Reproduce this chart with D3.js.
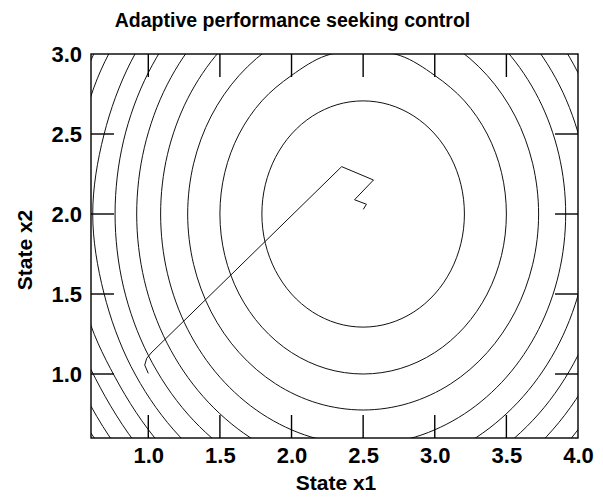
<!DOCTYPE html>
<html>
<head>
<meta charset="utf-8">
<script src="https://cdn.jsdelivr.net/npm/d3@7"></script>
<style>
  html, body { margin: 0; padding: 0; background: #fff; }
  svg { display: block; }
  text { font-family: "Liberation Sans", Arial, Helvetica, sans-serif; font-weight: bold; fill: #000; }
</style>
</head>
<body>
<div id="chart"></div>
<script>
// ---------------- data ----------------
const titleText = "Adaptive performance seeking control";
const xLabelText = "State x1";
const yLabelText = "State x2";
const xDomain = [0.6, 4.0];
const yDomain = [0.6, 3.0];
const xTicks = [1.0, 1.5, 2.0, 2.5, 3.0, 3.5, 4.0];
const yTicks = [1.0, 1.5, 2.0, 2.5, 3.0];

// contour lines of the cost surface, level by level (x1, x2)
const contour05 = [[3.207,2.0],[3.183,2.183],[3.112,2.354],[3.0,2.5],[2.854,2.612],[2.683,2.683],[2.5,2.707],[2.317,2.683],[2.146,2.612],[2.0,2.5],[1.888,2.354],[1.817,2.183],[1.793,2.0],[1.817,1.817],[1.888,1.646],[2.0,1.5],[2.146,1.388],[2.317,1.317],[2.5,1.293],[2.683,1.317],[2.854,1.388],[3.0,1.5],[3.112,1.646],[3.183,1.817]];
const contour10 = [[3.5,2.0],[3.466,2.259],[3.366,2.5],[3.207,2.707],[3.0,2.866],[2.759,2.99],[2.5,3.02],[2.241,2.99],[2.0,2.866],[1.793,2.707],[1.634,2.5],[1.534,2.259],[1.5,2.0],[1.534,1.741],[1.634,1.5],[1.793,1.293],[2.0,1.134],[2.241,1.034],[2.5,1.0],[2.759,1.034],[3.0,1.134],[3.207,1.293],[3.366,1.5],[3.466,1.741]];
const contour15 = [[3.725,2.0],[3.683,2.317],[3.561,2.612],[3.366,2.866],[3.112,3.061],[2.817,3.183],[2.5,3.225],[2.183,3.183],[1.888,3.061],[1.634,2.866],[1.439,2.612],[1.317,2.317],[1.275,2.0],[1.317,1.683],[1.439,1.388],[1.634,1.134],[1.888,0.939],[2.183,0.817],[2.5,0.775],[2.817,0.817],[3.112,0.939],[3.366,1.134],[3.561,1.388],[3.683,1.683]];
const contour20 = [[3.914,2.0],[3.866,2.373],[3.725,2.721],[3.5,3.02],[3.207,3.249],[2.866,3.393],[2.5,3.442],[2.134,3.393],[1.793,3.249],[1.5,3.02],[1.275,2.721],[1.134,2.373],[1.086,2.0],[1.134,1.627],[1.275,1.279],[1.5,0.98],[1.793,0.751],[2.134,0.607],[2.5,0.558],[2.866,0.607],[3.207,0.751],[3.5,0.98],[3.725,1.279],[3.866,1.627]];
const contour25 = [[4.081,2.0],[4.027,2.417],[3.869,2.807],[3.618,3.14],[3.291,3.396],[2.909,3.558],[2.5,3.613],[2.091,3.558],[1.709,3.396],[1.382,3.14],[1.131,2.807],[0.973,2.417],[0.919,2.0],[0.973,1.583],[1.131,1.193],[1.382,0.86],[1.709,0.604],[2.091,0.442],[2.5,0.387],[2.909,0.442],[3.291,0.604],[3.618,0.86],[3.869,1.193],[4.027,1.583]];
const contour30 = [[4.232,2.0],[4.173,2.457],[4.0,2.883],[3.725,3.25],[3.366,3.53],[2.948,3.706],[2.5,3.767],[2.052,3.706],[1.634,3.53],[1.275,3.25],[1.0,2.883],[0.827,2.457],[0.768,2.0],[0.827,1.543],[1.0,1.117],[1.275,0.75],[1.634,0.47],[2.052,0.293],[2.5,0.233],[2.948,0.293],[3.366,0.47],[3.725,0.75],[4.0,1.117],[4.173,1.543]];
const contour35 = [[4.371,2.0],[4.307,2.494],[4.12,2.954],[3.823,3.349],[3.435,3.652],[2.984,3.843],[2.5,3.908],[2.016,3.843],[1.565,3.652],[1.177,3.349],[0.88,2.954],[0.69,2.494],[0.612,2.0],[0.69,1.506],[0.88,1.046],[1.177,0.651],[1.565,0.346],[2.016,0.157],[2.5,0.092],[2.984,0.157],[3.435,0.346],[3.823,0.651],[4.12,1.046],[4.307,1.506]];
const contour40 = [[4.5,2.0],[4.432,2.528],[4.232,3.02],[3.914,3.442],[3.5,3.767],[3.018,3.971],[2.5,4.04],[1.982,3.971],[1.5,3.767],[1.086,3.442],[0.76,3.06],[0.56,2.61],[0.5,2.0],[0.56,1.42],[0.768,0.98],[1.086,0.558],[1.5,0.233],[1.982,0.029],[2.5,-0.04],[3.018,0.029],[3.5,0.233],[3.914,0.558],[4.232,0.98],[4.432,1.472]];
const contour45 = [[1.0,3.53],[0.663,3.082],[0.451,2.56],[0.379,2.0],[0.45,1.38],[0.663,0.918],[1.0,0.47],[1.439,0.126]];
const contour50 = [[0.264,2.0],[0.34,1.409],[0.564,0.86],[0.919,0.387],[1.382,0.025]];
const contour55 = [[0.469,0.804],[0.842,0.309]];

const closedContours = [contour05, contour10, contour15, contour20, contour25, contour30, contour35, contour40];
const openContours = [contour45, contour50, contour55];

// path of the adaptive controller in the state plane
const trajectory = [[1.0,1.004],[0.975,1.056],[0.989,1.098],[1.019,1.131],[2.35,2.296],[2.572,2.2125],[2.44,2.089],[2.523,2.061],[2.501,2.029]];

// ---------------- drawing ----------------
const W = 603, H = 500;
const plot = { left: 91, right: 578, top: 54, bottom: 438 };

const svg = d3.select("#chart").append("svg")
  .attr("width", W).attr("height", H)
  .attr("viewBox", `0 0 ${W} ${H}`);

const x = d3.scaleLinear().domain(xDomain).range([plot.left, plot.right]);
const y = d3.scaleLinear().domain(yDomain).range([plot.bottom, plot.top]);

svg.append("defs").append("clipPath").attr("id", "plotClip")
  .append("rect")
  .attr("x", plot.left).attr("y", plot.top)
  .attr("width", plot.right - plot.left).attr("height", plot.bottom - plot.top);

const g = svg.append("g").attr("clip-path", "url(#plotClip)");

const closedLine = d3.line().x(d => x(d[0])).y(d => y(d[1])).curve(d3.curveCatmullRomClosed.alpha(0.5));
const openCurve = d3.line().x(d => x(d[0])).y(d => y(d[1])).curve(d3.curveCatmullRom.alpha(0.5));
const openLine = d3.line().x(d => x(d[0])).y(d => y(d[1]));

g.selectAll("path.closed").data(closedContours).join("path")
  .attr("class", "closed")
  .attr("d", closedLine)
  .attr("fill", "none").attr("stroke", "#111").attr("stroke-width", 1);

g.selectAll("path.open").data(openContours).join("path")
  .attr("class", "open")
  .attr("d", openCurve)
  .attr("fill", "none").attr("stroke", "#111").attr("stroke-width", 1);

g.append("path").datum(trajectory)
  .attr("d", openLine)
  .attr("fill", "none").attr("stroke", "#111").attr("stroke-width", 1);

// frame
svg.append("rect")
  .attr("x", plot.left).attr("y", plot.top)
  .attr("width", plot.right - plot.left).attr("height", plot.bottom - plot.top)
  .attr("fill", "none").attr("stroke", "#000").attr("stroke-width", 1.4);

const tickLen = 23;
const fmt = d3.format(".1f");

// axes (labels outside, ticks drawn inward on all four sides)
const axB = d3.axisBottom(x).tickValues(xTicks).tickFormat(fmt).tickSize(0).tickPadding(9);
const axL = d3.axisLeft(y).tickValues(yTicks).tickFormat(fmt).tickSize(0).tickPadding(9);

const gx = svg.append("g").attr("transform", `translate(0,${plot.bottom})`).call(axB);
const gy = svg.append("g").attr("transform", `translate(${plot.left},0)`).call(axL);
[gx, gy].forEach(a => {
  a.select(".domain").remove();
  a.selectAll("text").style("font-size", "22px").style("font-weight", "bold")
    .attr("font-family", "Liberation Sans, Arial, Helvetica, sans-serif");
});

const innerX = xTicks.filter(v => v > xDomain[0] && v < xDomain[1]);
const innerY = yTicks.filter(v => v > yDomain[0] && v < yDomain[1]);
const tk = svg.append("g").attr("stroke", "#000").attr("stroke-width", 1.4);
tk.selectAll("line.b").data(innerX).join("line").attr("class", "b")
  .attr("x1", d => x(d)).attr("x2", d => x(d)).attr("y1", plot.bottom).attr("y2", plot.bottom - tickLen);
tk.selectAll("line.t").data(innerX).join("line").attr("class", "t")
  .attr("x1", d => x(d)).attr("x2", d => x(d)).attr("y1", plot.top).attr("y2", plot.top + tickLen);
tk.selectAll("line.l").data(innerY).join("line").attr("class", "l")
  .attr("y1", d => y(d)).attr("y2", d => y(d)).attr("x1", plot.left).attr("x2", plot.left + tickLen);
tk.selectAll("line.r").data(innerY).join("line").attr("class", "r")
  .attr("y1", d => y(d)).attr("y2", d => y(d)).attr("x1", plot.right).attr("x2", plot.right - tickLen);

// titles
svg.append("text").attr("x", 292.5).attr("y", 27).attr("text-anchor", "middle")
  .style("font-size", "19.5px").text(titleText);
svg.append("text").attr("x", 336).attr("y", 490).attr("text-anchor", "middle")
  .style("font-size", "21px").text(xLabelText);
svg.append("text").attr("transform", "translate(32,250) rotate(-90)").attr("text-anchor", "middle")
  .style("font-size", "21px").text(yLabelText);
</script>
</body>
</html>
